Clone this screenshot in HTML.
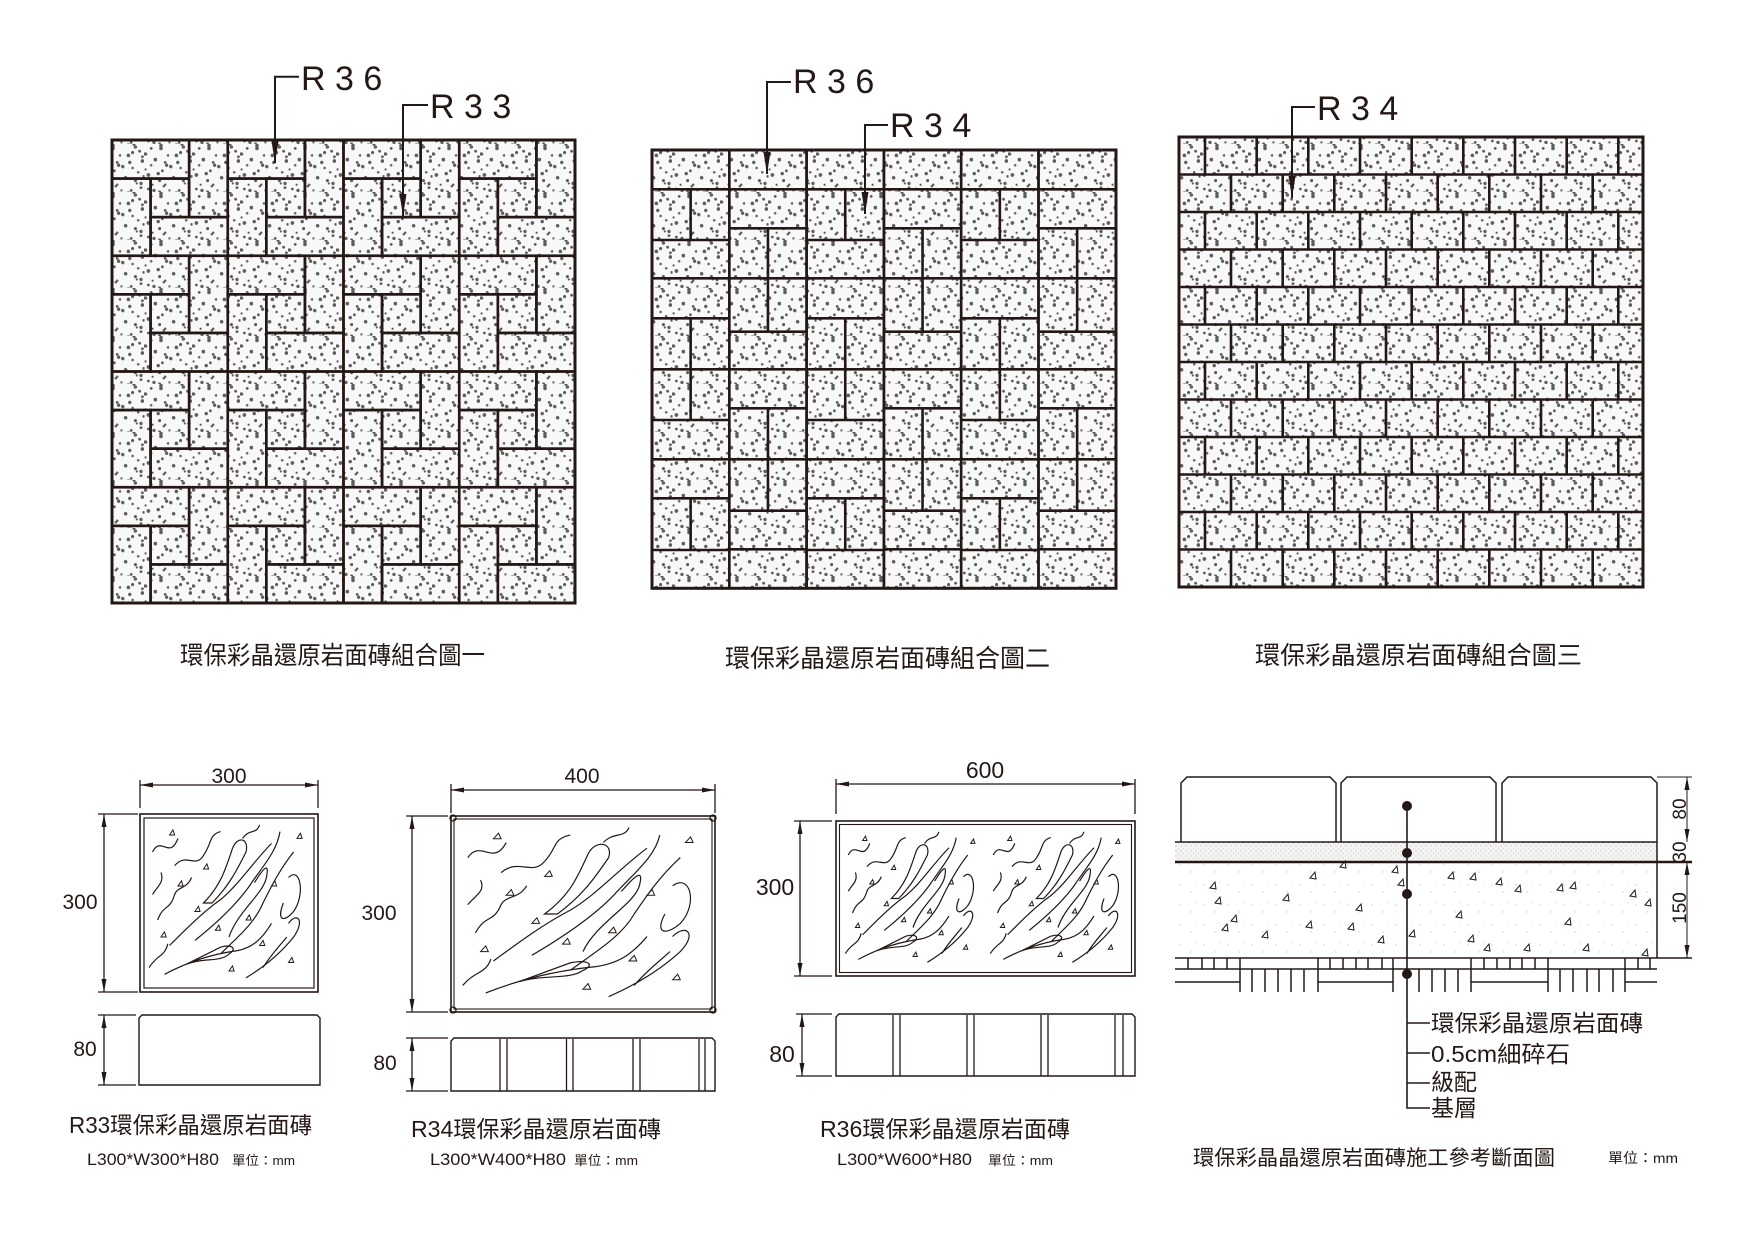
<!DOCTYPE html>
<html><head><meta charset="utf-8"><style>
html,body{margin:0;padding:0;background:#fff}
svg{display:block}
text{font-family:"Liberation Sans","Noto Sans CJK TC",sans-serif;fill:#231815}
</style></head><body>
<svg xmlns="http://www.w3.org/2000/svg" xmlns:xlink="http://www.w3.org/1999/xlink" width="1754" height="1240" viewBox="0 0 1754 1240">
<defs>
<g id="dots" fill="#5e5e5e" transform="translate(24,24) scale(1.4) translate(-24,-24)">
<circle cx="3" cy="5" r="1.2"/><circle cx="11" cy="2" r="0.9"/><circle cx="19" cy="8" r="1.3"/><circle cx="27" cy="4" r="1"/><circle cx="35" cy="9" r="1.2"/><circle cx="43" cy="3" r="0.9"/><circle cx="7" cy="14" r="1.1"/><circle cx="15" cy="18" r="1.3"/><circle cx="24" cy="15" r="0.9"/><circle cx="31" cy="20" r="1.2"/><circle cx="40" cy="16" r="1"/><circle cx="46" cy="22" r="1.2"/><circle cx="2" cy="25" r="1"/><circle cx="10" cy="29" r="1.3"/><circle cx="20" cy="26" r="1"/><circle cx="28" cy="31" r="1.2"/><circle cx="37" cy="27" r="0.9"/><circle cx="44" cy="33" r="1.2"/><circle cx="5" cy="37" r="1.1"/><circle cx="14" cy="40" r="1.2"/><circle cx="22" cy="36" r="0.9"/><circle cx="30" cy="42" r="1.3"/><circle cx="39" cy="38" r="1"/><circle cx="47" cy="44" r="1"/><circle cx="8" cy="46" r="1.2"/><circle cx="17" cy="45" r="0.9"/><circle cx="26" cy="47" r="1.1"/><circle cx="34" cy="46" r="1.2"/><circle cx="12" cy="10" r="1"/><circle cx="33" cy="13" r="1.1"/><circle cx="23" cy="22" r="1.2"/><circle cx="41" cy="30" r="1"/><circle cx="18" cy="33" r="1.1"/><circle cx="6" cy="20" r="0.9"/><circle cx="36" cy="35" r="0.8"/><circle cx="25" cy="40" r="0.8"/>
</g>
<pattern id="sp" width="48" height="48" patternUnits="userSpaceOnUse">
<rect width="48" height="48" fill="#f8f8f8"/>
<use xlink:href="#dots"/>
<use xlink:href="#dots" transform="rotate(90 24 24)"/>
</pattern>
<pattern id="sand" width="5" height="5" patternUnits="userSpaceOnUse"><rect width="5" height="5" fill="#f4f4f4"/><circle cx="1" cy="1" r="0.7" fill="#c8c8c8"/><circle cx="3.5" cy="3.5" r="0.6" fill="#d0d0d0"/></pattern>
<pattern id="grav" width="24" height="20" patternUnits="userSpaceOnUse"><rect width="24" height="20" fill="#fff"/><circle cx="4" cy="5" r="0.7" fill="#ccc"/><circle cx="15" cy="12" r="0.7" fill="#ccc"/><circle cx="20" cy="3" r="0.6" fill="#ddd"/></pattern>
<marker id="ah" viewBox="0 0 13 5" refX="13" refY="2.5" markerWidth="13" markerHeight="5" markerUnits="userSpaceOnUse" orient="auto-start-reverse"><path d="M0,0 L13,2.5 L0,5z" fill="#231815"/></marker>
<marker id="pa" viewBox="0 0 22 7" refX="22" refY="3.5" markerWidth="22" markerHeight="7" markerUnits="userSpaceOnUse" orient="auto"><path d="M0,0 L22,3.5 L0,7z" fill="#231815"/></marker>
<g id="b1" fill="none" stroke="#231815" stroke-width="2.6">
<rect x="0" y="0" width="77.17" height="38.58"/><rect x="77.17" y="0" width="38.58" height="77.17"/><rect x="0" y="38.58" width="38.58" height="77.17"/><rect x="38.58" y="38.58" width="38.58" height="38.58"/><rect x="38.58" y="77.17" width="77.17" height="38.58"/>
</g>
<path id="cA" fill="none" stroke="#231815" stroke-width="2.6" d="M0,189.3H77.3M0,240H77.3M0,278.3H77.3M0,318.3H77.3M0,369.3H77.3M0,420H77.3M0,459.3H77.3M0,498.3H77.3M0,550H77.3M38.65,189.3V240M38.65,318.3V420M38.65,498.3V550M0,150V588.3M77.3,150V588.3"/>
<path id="cB" fill="none" stroke="#231815" stroke-width="2.6" d="M0,189.3H77.3M0,228.3H77.3M0,278.3H77.3M0,331.7H77.3M0,369.3H77.3M0,408.3H77.3M0,459.3H77.3M0,510.7H77.3M0,549.3H77.3M38.65,228.3V331.7M38.65,408.3V510.7M0,150V588.3M77.3,150V588.3"/>
<path id="tri" d="M0,0 l5,-6 l1,7 z" fill="none" stroke="#231815" stroke-width="1"/>
<g id="wave" fill="none" stroke="#231815" stroke-width="1.2">
<path vector-effect="non-scaling-stroke" d="M5,20 C10,10 15,25 20,12"/>
<path vector-effect="non-scaling-stroke" d="M18,28 C25,20 30,30 35,22 C40,15 38,10 45,8"/>
<path vector-effect="non-scaling-stroke" d="M40,50 C50,40 55,30 60,20 C62,12 55,10 52,18 C48,30 45,40 35,50 Z"/>
<path vector-effect="non-scaling-stroke" d="M8,60 C12,50 15,55 18,45 C20,40 25,42 28,35"/>
<path vector-effect="non-scaling-stroke" d="M15,75 C25,65 35,55 45,48 C55,40 65,25 75,15"/>
<path vector-effect="non-scaling-stroke" d="M30,72 C45,60 55,50 62,40 C70,28 78,20 80,8"/>
<path vector-effect="non-scaling-stroke" d="M45,80 C55,70 65,62 70,50 C75,40 80,30 88,20"/>
<path vector-effect="non-scaling-stroke" d="M50,70 C55,55 70,45 72,35 C74,25 70,30 65,38"/>
<path vector-effect="non-scaling-stroke" d="M12,92 C25,85 40,80 55,78 C65,76 70,70 75,62"/>
<path vector-effect="non-scaling-stroke" d="M25,86 C35,82 45,85 50,80 C55,77 52,74 45,76 Z"/>
<path vector-effect="non-scaling-stroke" d="M60,94 C70,88 80,80 88,70 C95,60 90,55 85,62"/>
<path vector-effect="non-scaling-stroke" d="M85,35 C92,28 95,45 88,55 C82,62 78,60 82,50"/>
<path vector-effect="non-scaling-stroke" d="M70,88 C75,80 80,75 84,70"/>
<path vector-effect="non-scaling-stroke" d="M5,45 C8,40 12,38 10,32"/>
<path vector-effect="non-scaling-stroke" d="M58,12 C62,6 66,10 68,4"/>
<path vector-effect="non-scaling-stroke" d="M3,88 C8,80 12,82 14,74"/>
</g>
<g id="wtri" fill="none" stroke="#231815" stroke-width="1">
<path vector-effect="non-scaling-stroke" d="M20,40 l2,-3 l1,3z M35,30 l2,-3 l1,3z M60,60 l2,-3 l1,3z M75,40 l2,-3 l1,3z M10,70 l2,-3 l1,3z M50,90 l2,-3 l1,3z M85,85 l2,-3 l1,3z M30,55 l2,-3 l1,3z M90,12 l2,-3 l1,3z M68,75 l2,-3 l1,3z M42,66 l2,-3 l1,3z M15,10 l2,-3 l1,3z"/>
</g>
</defs>

<!-- Pattern 1 -->
<rect x="112" y="140" width="463" height="463" fill="url(#sp)"/>
<use xlink:href="#b1" x="112" y="140"/><use xlink:href="#b1" x="227.75" y="140"/><use xlink:href="#b1" x="343.5" y="140"/><use xlink:href="#b1" x="459.25" y="140"/>
<use xlink:href="#b1" x="112" y="255.75"/><use xlink:href="#b1" x="227.75" y="255.75"/><use xlink:href="#b1" x="343.5" y="255.75"/><use xlink:href="#b1" x="459.25" y="255.75"/>
<use xlink:href="#b1" x="112" y="371.5"/><use xlink:href="#b1" x="227.75" y="371.5"/><use xlink:href="#b1" x="343.5" y="371.5"/><use xlink:href="#b1" x="459.25" y="371.5"/>
<use xlink:href="#b1" x="112" y="487.25"/><use xlink:href="#b1" x="227.75" y="487.25"/><use xlink:href="#b1" x="343.5" y="487.25"/><use xlink:href="#b1" x="459.25" y="487.25"/>
<rect x="112" y="140" width="463" height="463" fill="none" stroke="#231815" stroke-width="3"/>
<path d="M299,76.7H275V163" fill="none" stroke="#231815" stroke-width="2" marker-end="url(#pa)"/>
<text x="301" y="90" font-size="34">R 3 6</text>
<path d="M428,105H403V216" fill="none" stroke="#231815" stroke-width="2" marker-end="url(#pa)"/>
<text x="430" y="118" font-size="34">R 3 3</text>
<text x="180" y="664" font-size="25" textLength="305" lengthAdjust="spacingAndGlyphs">環保彩晶還原岩面磚組合圖一</text>

<!-- Pattern 2 -->
<rect x="652" y="150" width="464" height="438.3" fill="url(#sp)"/>
<use xlink:href="#cA" x="652"/><use xlink:href="#cB" x="729.3"/><use xlink:href="#cA" x="806.6"/><use xlink:href="#cB" x="883.9"/><use xlink:href="#cA" x="961.2"/><use xlink:href="#cB" x="1038.5"/>
<rect x="652" y="150" width="464" height="438.3" fill="none" stroke="#231815" stroke-width="3"/>
<path d="M791,82H767V174" fill="none" stroke="#231815" stroke-width="2" marker-end="url(#pa)"/>
<text x="793" y="93" font-size="34">R 3 6</text>
<path d="M888,125H865V214" fill="none" stroke="#231815" stroke-width="2" marker-end="url(#pa)"/>
<text x="890" y="137" font-size="34">R 3 4</text>
<text x="725" y="667" font-size="25" textLength="325" lengthAdjust="spacingAndGlyphs">環保彩晶還原岩面磚組合圖二</text>

<!-- Pattern 3 -->
<rect x="1179" y="137" width="464" height="450" fill="url(#sp)"/>
<path fill="none" stroke="#231815" stroke-width="2.6" d="
M1179,174.5H1643M1179,212H1643M1179,249.5H1643M1179,287H1643M1179,324.5H1643M1179,362H1643M1179,399.5H1643M1179,437H1643M1179,474.5H1643M1179,512H1643M1179,549.5H1643
M1205,137V174.5M1256.7,137V174.5M1308.3,137V174.5M1360,137V174.5M1411.7,137V174.5M1463.3,137V174.5M1515,137V174.5M1566.7,137V174.5M1618.3,137V174.5
M1231,174.5V212M1282.7,174.5V212M1334.3,174.5V212M1386,174.5V212M1437.7,174.5V212M1489.3,174.5V212M1541,174.5V212M1592.7,174.5V212
M1205,212V249.5M1256.7,212V249.5M1308.3,212V249.5M1360,212V249.5M1411.7,212V249.5M1463.3,212V249.5M1515,212V249.5M1566.7,212V249.5M1618.3,212V249.5
M1231,249.5V287M1282.7,249.5V287M1334.3,249.5V287M1386,249.5V287M1437.7,249.5V287M1489.3,249.5V287M1541,249.5V287M1592.7,249.5V287
M1205,287V324.5M1256.7,287V324.5M1308.3,287V324.5M1360,287V324.5M1411.7,287V324.5M1463.3,287V324.5M1515,287V324.5M1566.7,287V324.5M1618.3,287V324.5
M1231,324.5V362M1282.7,324.5V362M1334.3,324.5V362M1386,324.5V362M1437.7,324.5V362M1489.3,324.5V362M1541,324.5V362M1592.7,324.5V362
M1205,362V399.5M1256.7,362V399.5M1308.3,362V399.5M1360,362V399.5M1411.7,362V399.5M1463.3,362V399.5M1515,362V399.5M1566.7,362V399.5M1618.3,362V399.5
M1231,399.5V437M1282.7,399.5V437M1334.3,399.5V437M1386,399.5V437M1437.7,399.5V437M1489.3,399.5V437M1541,399.5V437M1592.7,399.5V437
M1205,437V474.5M1256.7,437V474.5M1308.3,437V474.5M1360,437V474.5M1411.7,437V474.5M1463.3,437V474.5M1515,437V474.5M1566.7,437V474.5M1618.3,437V474.5
M1231,474.5V512M1282.7,474.5V512M1334.3,474.5V512M1386,474.5V512M1437.7,474.5V512M1489.3,474.5V512M1541,474.5V512M1592.7,474.5V512
M1205,512V549.5M1256.7,512V549.5M1308.3,512V549.5M1360,512V549.5M1411.7,512V549.5M1463.3,512V549.5M1515,512V549.5M1566.7,512V549.5M1618.3,512V549.5
M1231,549.5V587M1282.7,549.5V587M1334.3,549.5V587M1386,549.5V587M1437.7,549.5V587M1489.3,549.5V587M1541,549.5V587M1592.7,549.5V587"/>
<rect x="1179" y="137" width="464" height="450" fill="none" stroke="#231815" stroke-width="3"/>
<path d="M1315,107H1292V198" fill="none" stroke="#231815" stroke-width="2" marker-end="url(#pa)"/>
<text x="1317" y="120" font-size="34">R 3 4</text>
<text x="1255" y="664" font-size="25" textLength="327" lengthAdjust="spacingAndGlyphs">環保彩晶還原岩面磚組合圖三</text>

<!-- R33 -->
<g stroke="#231815" fill="none" stroke-width="1.3">
<path d="M140,785H318" marker-start="url(#ah)" marker-end="url(#ah)"/>
<path d="M140,780V808M318,780V808"/>
<path d="M104,814V992" marker-start="url(#ah)" marker-end="url(#ah)"/>
<path d="M98,814H138M98,992H138"/>
<rect x="140" y="814" width="178" height="178" stroke-width="1.6"/>
<rect x="144" y="818" width="170" height="170" stroke-width="1.2"/>
<path d="M139,1085V1018L142,1015H317L320,1018V1085Z" stroke-width="1.4"/>
<path d="M104,1015V1085" marker-start="url(#ah)" marker-end="url(#ah)"/>
<path d="M98,1015H136M98,1085H136"/>
</g>
<use xlink:href="#wave" transform="translate(144,818) scale(1.7,1.7)"/>
<use xlink:href="#wtri" transform="translate(144,818) scale(1.7,1.7)"/>
<text x="229" y="783" font-size="21" text-anchor="middle">300</text>
<text x="80" y="909" font-size="21" text-anchor="middle">300</text>
<text x="85" y="1056" font-size="21" text-anchor="middle">80</text>
<text x="69" y="1133" font-size="23" textLength="243" lengthAdjust="spacingAndGlyphs">R33環保彩晶還原岩面磚</text>
<text x="87" y="1165" font-size="17" textLength="132" lengthAdjust="spacingAndGlyphs">L300*W300*H80</text>
<text x="232" y="1165" font-size="13" textLength="63" lengthAdjust="spacingAndGlyphs">單位：mm</text>

<!-- R34 -->
<g stroke="#231815" fill="none" stroke-width="1.3">
<path d="M451,790H715" marker-start="url(#ah)" marker-end="url(#ah)"/>
<path d="M451,784V813M715,784V813"/>
<path d="M412,816V1012" marker-start="url(#ah)" marker-end="url(#ah)"/>
<path d="M406,816H448M406,1012H448"/>
<rect x="451" y="816" width="264" height="196" stroke-width="1.6"/>
<rect x="454" y="819" width="258" height="190" stroke-width="1.1"/>
<circle cx="453" cy="818" r="3"/><circle cx="713" cy="818" r="3"/><circle cx="453" cy="1010" r="3"/><circle cx="713" cy="1010" r="3"/>
<path d="M451,1091V1041L454,1038H712L715,1041V1091Z" stroke-width="1.4"/>
<path d="M500,1039V1091M507,1039V1091M566.5,1039V1091M573,1039V1091M633,1039V1091M640,1039V1091M699,1039V1091M705,1039V1091"/>
<path d="M412,1038V1091" marker-start="url(#ah)" marker-end="url(#ah)"/>
<path d="M406,1038H448M406,1091H448"/>
</g>
<use xlink:href="#wave" transform="translate(455,820) scale(2.56,1.88)"/>
<use xlink:href="#wtri" transform="translate(455,820) scale(2.56,1.88)"/>
<text x="582" y="783" font-size="21" text-anchor="middle">400</text>
<text x="379" y="920" font-size="21" text-anchor="middle">300</text>
<text x="385" y="1070" font-size="21" text-anchor="middle">80</text>
<text x="411" y="1137" font-size="23" textLength="250" lengthAdjust="spacingAndGlyphs">R34環保彩晶還原岩面磚</text>
<text x="430" y="1165" font-size="17" textLength="136" lengthAdjust="spacingAndGlyphs">L300*W400*H80</text>
<text x="574" y="1165" font-size="13" textLength="64" lengthAdjust="spacingAndGlyphs">單位：mm</text>

<!-- R36 -->
<g stroke="#231815" fill="none" stroke-width="1.3">
<path d="M836,784H1135" marker-start="url(#ah)" marker-end="url(#ah)"/>
<path d="M836,779V814M1135,779V814"/>
<path d="M800,821V976" marker-start="url(#ah)" marker-end="url(#ah)"/>
<path d="M794,821H832M794,976H832"/>
<rect x="836" y="821" width="299" height="155" stroke-width="1.6"/>
<rect x="839.5" y="824.5" width="292" height="148" stroke-width="1.1"/>
<path d="M836,1076V1017L839,1014H1132L1135,1017V1076Z" stroke-width="1.4"/>
<path d="M893,1015V1076M900,1015V1076M967,1015V1076M974,1015V1076M1041,1015V1076M1048,1015V1076M1115,1015V1076M1123,1015V1076"/>
<path d="M802,1014V1076" marker-start="url(#ah)" marker-end="url(#ah)"/>
<path d="M796,1014H832M796,1076H832"/>
</g>
<use xlink:href="#wave" transform="translate(841,826) scale(1.44,1.45)"/>
<use xlink:href="#wtri" transform="translate(841,826) scale(1.44,1.45)"/>
<use xlink:href="#wave" transform="translate(986,826) scale(1.44,1.45)"/>
<use xlink:href="#wtri" transform="translate(986,826) scale(1.44,1.45)"/>
<text x="985" y="778" font-size="23" text-anchor="middle">600</text>
<text x="775" y="895" font-size="23" text-anchor="middle">300</text>
<text x="782" y="1062" font-size="23" text-anchor="middle">80</text>
<text x="820" y="1137" font-size="23" textLength="250" lengthAdjust="spacingAndGlyphs">R36環保彩晶還原岩面磚</text>
<text x="837" y="1165" font-size="17" textLength="135" lengthAdjust="spacingAndGlyphs">L300*W600*H80</text>
<text x="988" y="1165" font-size="13" textLength="65" lengthAdjust="spacingAndGlyphs">單位：mm</text>

<!-- Section -->
<rect x="1175" y="842" width="482" height="20" fill="url(#sand)"/>
<rect x="1175" y="862" width="482" height="96" fill="url(#grav)"/>
<g stroke="#231815" fill="none" stroke-width="1.5">
<path d="M1181,842V783L1187,777H1330L1336,783V842"/>
<path d="M1341,842V783L1347,777H1490L1496,783V842"/>
<path d="M1502,842V783L1508,777H1651L1657,783V842"/>
<path d="M1175,842H1657"/>
<path d="M1175,862H1692" stroke-width="2.6"/>
<path d="M1657,842V958M1175,958H1692M1175,969H1657"/>
<path d="M1175,982H1240M1318,982H1393M1471,982H1548M1625,982H1657"/>
<path d="M1240,958V992M1318,958V992M1393,958V992M1471,958V992M1548,958V992M1625,958V992"/>
<path d="M1188,958V969M1202,958V969M1214,958V969M1227,958V969M1330,958V969M1343,958V969M1356,958V969M1368,958V969M1382,958V969M1484,958V969M1497,958V969M1510,958V969M1522,958V969M1535,958V969M1638,958V969M1650,958V969"/>
<path d="M1252,969V992M1265,969V992M1278,969V992M1291,969V992M1304,969V992M1419,969V992M1432,969V992M1445,969V992M1458,969V992M1560,969V992M1573,969V992M1587,969V992M1599,969V992M1613,969V992"/>
<path d="M1657,777H1692" stroke-width="1"/>
<path d="M1687,777V842" stroke-width="1" marker-start="url(#ah)" marker-end="url(#ah)"/>
<path d="M1687,862V958" stroke-width="1" marker-start="url(#ah)" marker-end="url(#ah)"/>
<path d="M1407,806V1108H1430M1407,1023H1430M1407,1053H1430M1407,1083H1430" stroke-width="1.6"/>
</g>
<g fill="#231815"><circle cx="1407" cy="806" r="5"/><circle cx="1407" cy="853" r="5"/><circle cx="1407" cy="894" r="5"/><circle cx="1407" cy="974" r="5"/></g>
<g>
<use xlink:href="#tri" x="1283" y="900"/><use xlink:href="#tri" x="1310" y="878"/><use xlink:href="#tri" x="1340" y="867"/><use xlink:href="#tri" x="1356" y="910"/><use xlink:href="#tri" x="1392" y="872"/><use xlink:href="#tri" x="1398" y="885"/><use xlink:href="#tri" x="1215" y="903"/><use xlink:href="#tri" x="1222" y="930"/><use xlink:href="#tri" x="1231" y="921"/><use xlink:href="#tri" x="1262" y="937"/><use xlink:href="#tri" x="1306" y="927"/><use xlink:href="#tri" x="1348" y="929"/><use xlink:href="#tri" x="1378" y="942"/><use xlink:href="#tri" x="1409" y="936"/><use xlink:href="#tri" x="1448" y="878"/><use xlink:href="#tri" x="1470" y="879"/><use xlink:href="#tri" x="1456" y="917"/><use xlink:href="#tri" x="1468" y="941"/><use xlink:href="#tri" x="1496" y="884"/><use xlink:href="#tri" x="1515" y="891"/><use xlink:href="#tri" x="1557" y="890"/><use xlink:href="#tri" x="1570" y="888"/><use xlink:href="#tri" x="1565" y="924"/><use xlink:href="#tri" x="1524" y="950"/><use xlink:href="#tri" x="1484" y="950"/><use xlink:href="#tri" x="1583" y="950"/><use xlink:href="#tri" x="1630" y="896"/><use xlink:href="#tri" x="1645" y="905"/><use xlink:href="#tri" x="1642" y="955"/><use xlink:href="#tri" x="1210" y="888"/>
</g>
<text transform="translate(1686,809) rotate(-90)" font-size="19" text-anchor="middle">80</text>
<text transform="translate(1686,852) rotate(-90)" font-size="19" text-anchor="middle">30</text>
<text transform="translate(1686,908) rotate(-90)" font-size="19" text-anchor="middle">150</text>
<text x="1431" y="1031" font-size="23" textLength="212" lengthAdjust="spacingAndGlyphs">環保彩晶還原岩面磚</text>
<text x="1431" y="1062" font-size="23" textLength="139" lengthAdjust="spacingAndGlyphs">0.5cm細碎石</text>
<text x="1431" y="1090" font-size="23">級配</text>
<text x="1431" y="1116" font-size="23">基層</text>
<text x="1193" y="1165" font-size="21" textLength="362" lengthAdjust="spacingAndGlyphs">環保彩晶晶還原岩面磚施工參考斷面圖</text>
<text x="1608" y="1163" font-size="14" textLength="70" lengthAdjust="spacingAndGlyphs">單位：mm</text>
</svg>
</body></html>
